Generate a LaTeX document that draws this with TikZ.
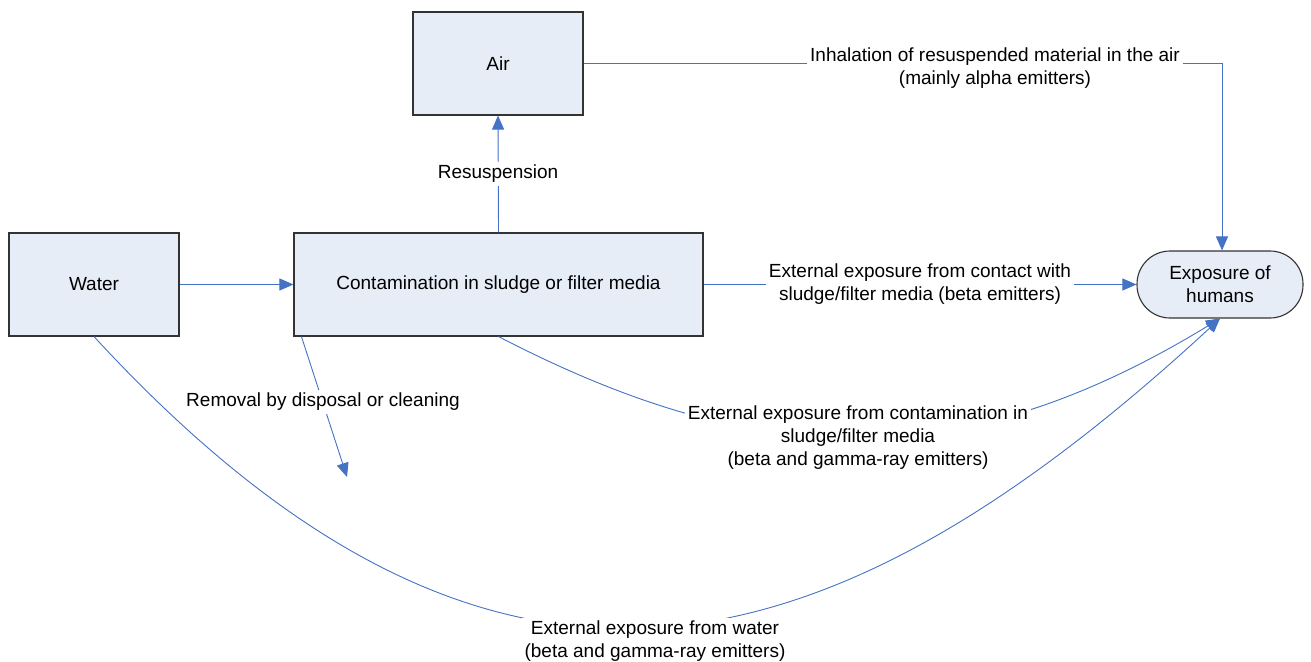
\documentclass[tikz,border=0pt]{standalone}
\usepackage{fontspec}
\setmainfont{Liberation Sans}
\usetikzlibrary{arrows.meta}
\definecolor{flow}{HTML}{4472C4}
\definecolor{boxfill}{HTML}{E7EDF7}
\definecolor{boxline}{HTML}{333333}
\tikzset{
  stage/.style={draw=boxline, line width=1.1pt, fill=boxfill, inner sep=0pt,
    font=\fontsize{19}{23}\selectfont},
  target/.style={stage, rounded corners=33pt, align=center},
  flowline/.style={draw=flow, line width=0.9pt},
  flowarrow/.style={flowline, -{Triangle[length=14pt,width=12pt]}},
  pathlabel/.style={fill=white, inner sep=3pt, align=center,
    font=\fontsize{19}{23}\selectfont}
}
\begin{document}
\begin{tikzpicture}[x=1pt,y=-1pt]
\useasboundingbox (0,0) rectangle (1311,661);

% compartments
\node[stage, minimum width=170pt, minimum height=103pt] (water) at (94,284.5) {Water};
\node[stage, minimum width=409pt, minimum height=103pt] (contam) at (498.5,284.5) {Contamination in sludge or filter media};
\node[stage, minimum width=170pt, minimum height=103pt] (air) at (498,63.5) {Air};
\node[target, minimum width=166pt, minimum height=67pt] (expo) at (1220,284.5) {Exposure of\\humans};

% transfers between compartments
\draw[flowarrow] (water.east) -- (contam.west);
\draw[flowarrow] (contam.north) -- (air.south);
\draw[flowarrow] (air.east) -| ([xshift=2pt]expo.north);
\draw[flowarrow] (contam.east) -- (expo.west);

\coordinate (removed) at (347,477);
\draw[flowarrow] ([xshift=8pt]contam.south west) -- (removed);

\draw[flowarrow] (contam.south) .. controls (758,471) and (960,477) .. (expo.south);
\draw[flowarrow] (water.south) .. controls (492,769) and (825,683) .. (expo.south);

% pathway labels
\node[pathlabel] (lres) at (498,174) {Resuspension};
\node[pathlabel] (linh) at (995,68) {Inhalation of resuspended material in the air\\(mainly alpha emitters)};
\node[pathlabel] (lcon) at (920,284.5) {External exposure from contact with\\sludge/filter media (beta emitters)};
\node[pathlabel] (lrem) at (323,402) {Removal by disposal or cleaning};
\node[pathlabel] (lsl) at (858,437.5) {External exposure from contamination in\\sludge/filter media\\(beta and gamma-ray emitters)};
\node[pathlabel] (lwat) at (655,641) {External exposure from water\\(beta and gamma-ray emitters)};
\end{tikzpicture}
\end{document}
